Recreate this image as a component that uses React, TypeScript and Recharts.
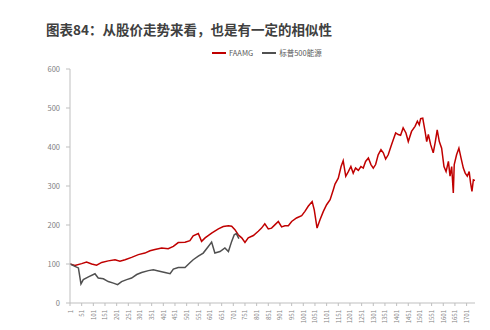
import React from 'react';
import { LineChart, Line, XAxis, YAxis } from 'recharts';

const faamgDays = [
  1, 22, 51, 72, 94, 115, 137, 165, 194, 215, 237, 265, 294, 322, 344, 365, 394, 422, 444, 465,
  494, 515, 529, 551, 565, 580, 608, 637, 658, 680, 694, 708, 722, 737, 751, 765, 787, 808, 822, 836,
  851, 865, 880, 894, 908, 922, 937, 951, 972, 994, 1008, 1022, 1039, 1048, 1060, 1073, 1087, 1101, 1116, 1130,
  1137, 1151, 1163, 1172, 1183, 1194, 1205, 1215, 1225, 1237, 1248, 1258, 1268, 1280, 1291, 1301, 1311, 1322, 1334, 1344,
  1354, 1365, 1377, 1387, 1397, 1408, 1418, 1429, 1441, 1451, 1465, 1480, 1490, 1498, 1504, 1513, 1523, 1530, 1537, 1547,
  1558, 1567, 1575, 1584, 1594, 1604, 1613, 1623, 1630, 1637, 1644, 1648, 1658, 1668, 1677, 1687, 1695, 1704, 1712, 1718,
  1724, 1730, 1737,
];
const faamgValues = [
  100, 96, 101, 105, 100, 97, 104, 108, 111, 107, 111, 117, 124, 128, 134, 137, 141, 139, 145, 155,
  156, 160, 172, 178, 158, 167, 179, 190, 196, 198, 197, 188, 175, 167, 155, 167, 173, 184, 192, 203,
  190, 192, 201, 209, 195, 198, 198, 209, 218, 224, 235, 248, 260, 239, 192, 214, 235, 252, 265, 291,
  305, 320, 350, 365, 325, 337, 350, 333, 346, 340, 350, 346, 363, 372, 355, 346, 355, 380, 393, 385,
  369, 380, 402, 419, 436, 432, 430, 449, 436, 414, 440, 453, 466, 457, 473, 474, 440, 414, 432, 406,
  385, 414, 444, 414, 397, 350, 337, 363, 325, 350, 282, 355, 380, 397, 372, 346, 333, 325, 337, 308,
  286, 316, 314,
];

const energyDays = [
  1, 22, 37, 48, 58, 80, 108, 122, 144, 165, 187, 205, 222, 244, 265, 287, 308, 337, 358, 380,
  408, 430, 444, 465, 494, 515, 529, 551, 572, 594, 608, 622, 644, 665, 680, 694, 705, 714, 725,
];
const energyValues = [
  100, 94, 90, 49, 60, 67, 75, 64, 62, 55, 51, 47, 55, 60, 64, 73, 78, 83, 85, 82,
  78, 75, 87, 91, 91, 103, 111, 120, 128, 145, 156, 128, 132, 141, 132, 158, 175, 178, 165,
];

const xTicks = [
  1, 51, 101, 151, 201, 251, 301, 351, 401, 451, 501, 551, 601, 651, 701, 751, 801, 851, 901, 951,
  1001, 1051, 1101, 1151, 1201, 1251, 1301, 1351, 1401, 1451, 1501, 1551, 1601, 1651, 1701,
];
const yTicks = [0, 100, 200, 300, 400, 500, 600];

const faamgData = faamgDays.map((day, i) => ({ day, value: faamgValues[i] }));
const energyData = energyDays.map((day, i) => ({ day, value: energyValues[i] }));

const FONT = '"Noto Sans CJK SC", "Noto Sans", sans-serif';

const XTick = (props: any) => {
  const { x, y, payload } = props;
  return (
    <text
      x={x}
      y={y}
      transform={`rotate(-90 ${x} ${y})`}
      textAnchor="end"
      dominantBaseline="central"
      fontSize={6}
      fill="#808080"
      fontFamily={FONT}
    >
      {payload.value}
    </text>
  );
};

const App: React.FC = () => {
  return (
    <div style={{ position: 'absolute', left: 0, top: 0, width: 490, height: 330, background: '#fff', fontFamily: FONT }}>
      <div
        style={{
          position: 'absolute',
          left: 46,
          top: 20,
          fontSize: 13.5,
          lineHeight: '18px',
          fontWeight: 700,
          color: '#404040',
          whiteSpace: 'nowrap',
        }}
      >
        图表84：从股价走势来看，也是有一定的相似性
      </div>
      <div
        style={{
          position: 'absolute',
          left: 212,
          top: 47,
          display: 'flex',
          alignItems: 'center',
          fontSize: 7.5,
          color: '#595959',
          whiteSpace: 'nowrap',
        }}
      >
        <span style={{ display: 'inline-block', width: 14, height: 2, background: '#c00000', marginRight: 3 }} />
        <span style={{ marginRight: 9 }}>FAAMG</span>
        <span style={{ display: 'inline-block', width: 14, height: 2, background: '#505050', marginRight: 3 }} />
        <span>标普500能源</span>
      </div>
      <div style={{ position: 'absolute', left: 0, top: 0 }}>
        <LineChart width={490} height={330} margin={{ top: 69, right: 15, bottom: 0, left: 0 }}>
          <XAxis
            type="number"
            dataKey="day"
            domain={[1, 1737]}
            ticks={xTicks}
            interval={0}
            allowDataOverflow
            height={27}
            tickSize={3}
            tickMargin={4}
            stroke="#bfbfbf"
            tick={<XTick />}
          />
          <YAxis
            type="number"
            domain={[0, 600]}
            ticks={yTicks}
            interval={0}
            width={70}
            tickSize={4}
            tickMargin={6}
            stroke="#bfbfbf"
            tick={{ fontSize: 7.5, fill: '#808080', fontFamily: FONT }}
          />
          <Line
            data={faamgData}
            dataKey="value"
            name="FAAMG"
            type="linear"
            stroke="#c00000"
            strokeWidth={1.5}
            dot={false}
            isAnimationActive={false}
          />
          <Line
            data={energyData}
            dataKey="value"
            name="标普500能源"
            type="linear"
            stroke="#505050"
            strokeWidth={1.5}
            dot={false}
            isAnimationActive={false}
          />
        </LineChart>
      </div>
    </div>
  );
};

export default App;
